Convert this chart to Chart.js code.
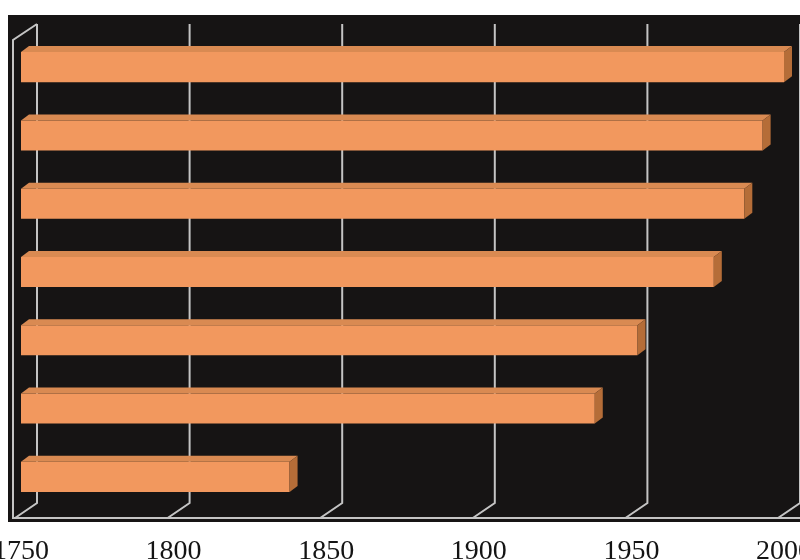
<!DOCTYPE html>
<html>
<head>
<meta charset="utf-8">
<script src="https://cdn.jsdelivr.net/npm/chart.js@4/dist/chart.umd.min.js"></script>
<style>
  html, body { margin: 0; padding: 0; background: #ffffff; }
  #wrap { width: 800px; height: 560px; }
</style>
</head>
<body>
<div id="wrap"><canvas id="c" width="800" height="560"></canvas></div>
<script>
// ---- data ----
const categories = ['Bar 1', 'Bar 2', 'Bar 3', 'Bar 4', 'Bar 5', 'Bar 6', 'Bar 7'];
const startYears = [1750, 1750, 1750, 1750, 1750, 1750, 1750];
const endYears   = [2000, 1993, 1987, 1977, 1952, 1938, 1838];
const tickYears  = [1750, 1800, 1850, 1900, 1950, 2000];

// ---- 3D styling constants ----
const DEPTH_BAR_X = 8, DEPTH_BAR_Y = 6;       // bar top/side depth
const BACK_DX = 16, BACK_DY = -9;             // back wall offset from bar plane
const FRONT_DX = -6, FRONT_DY = 7;            // front floor offset from bar plane

const threeD = {
  id: 'threeD',
  beforeDraw(chart) {
    const { ctx, chartArea: a, width, height } = chart;
    ctx.save();
    ctx.fillStyle = '#ffffff';
    ctx.fillRect(0, 0, width, height);
    ctx.fillStyle = '#161414';
    ctx.fillRect(a.left - 13, a.top - 18, width - (a.left - 13), (a.bottom + 11) - (a.top - 18));
    ctx.restore();
  },
  beforeDatasetsDraw(chart) {
    const { ctx, chartArea: a, scales } = chart;
    const xs = scales.x;
    ctx.save();
    ctx.strokeStyle = '#c4c4c4';
    ctx.lineWidth = 2;
    const backTop = a.top + BACK_DY;
    const backBottom = a.bottom + BACK_DY + 1;
    const frontBottom = a.bottom + FRONT_DY;
    tickYears.forEach(v => {
      const x = xs.getPixelForValue(v);
      ctx.beginPath();
      ctx.moveTo(x + BACK_DX, backTop);
      ctx.lineTo(x + BACK_DX, backBottom);
      ctx.lineTo(x + FRONT_DX, frontBottom);
      ctx.stroke();
    });
    const x0 = xs.getPixelForValue(tickYears[0]);
    ctx.beginPath();
    ctx.moveTo(x0 + BACK_DX, backTop);
    ctx.lineTo(x0 + FRONT_DX - 2, backTop + 16);
    ctx.lineTo(x0 + FRONT_DX - 2, frontBottom);
    ctx.lineTo(chart.width, frontBottom);
    ctx.stroke();
    ctx.restore();
  },
  afterDatasetsDraw(chart) {
    const { ctx } = chart;
    const meta = chart.getDatasetMeta(0);
    ctx.save();
    meta.data.forEach(bar => {
      const p = bar.getProps(['x', 'y', 'base', 'height'], true);
      const left = Math.min(p.x, p.base), right = Math.max(p.x, p.base);
      const top = p.y - p.height / 2, bottom = p.y + p.height / 2;
      ctx.fillStyle = '#d98a52';
      ctx.beginPath();
      ctx.moveTo(left, top);
      ctx.lineTo(left + DEPTH_BAR_X, top - DEPTH_BAR_Y);
      ctx.lineTo(right + DEPTH_BAR_X, top - DEPTH_BAR_Y);
      ctx.lineTo(right, top);
      ctx.closePath();
      ctx.fill();
      ctx.fillStyle = '#b56d38';
      ctx.beginPath();
      ctx.moveTo(right, top);
      ctx.lineTo(right + DEPTH_BAR_X, top - DEPTH_BAR_Y);
      ctx.lineTo(right + DEPTH_BAR_X, bottom - DEPTH_BAR_Y);
      ctx.lineTo(right, bottom);
      ctx.closePath();
      ctx.fill();
    });
    ctx.restore();
  }
};

new Chart(document.getElementById('c'), {
  type: 'bar',
  data: {
    labels: categories,
    datasets: [{
      data: startYears.map((s, i) => [s, endYears[i]]),
      backgroundColor: '#f2985e',
      borderWidth: 0,
      barPercentage: 0.44,
      categoryPercentage: 1.0
    }]
  },
  options: {
    indexAxis: 'y',
    responsive: false,
    animation: false,
    layout: { padding: { left: 21, right: 16, top: 33, bottom: 0 } },
    plugins: { legend: { display: false }, tooltip: { enabled: false } },
    scales: {
      x: {
        type: 'linear',
        min: tickYears[0],
        max: tickYears[tickYears.length - 1],
        afterBuildTicks(scale) { scale.ticks = tickYears.map(v => ({ value: v })); },
        afterFit(scale) { scale.paddingLeft = 0; scale.paddingRight = 0; scale.height = 49; },
        grid: { display: false, drawTicks: false },
        border: { display: false },
        ticks: {
          padding: 24,
          maxRotation: 0,
          autoSkip: false,
          color: '#141414',
          font: { family: '"Liberation Serif", "DejaVu Serif", serif', size: 28 },
          callback: v => String(v)
        }
      },
      y: { display: false }
    }
  },
  plugins: [threeD]
});
</script>
</body>
</html>
